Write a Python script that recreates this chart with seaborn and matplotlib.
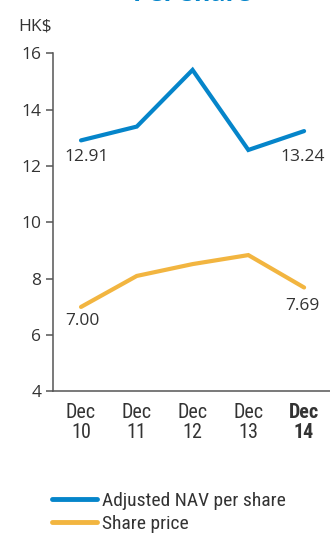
import matplotlib
matplotlib.use("Agg")
import matplotlib.pyplot as plt
import seaborn as sns
import pandas as pd
from matplotlib.lines import Line2D
from matplotlib import font_manager

# Chart data
periods = ["Dec\n10", "Dec\n11", "Dec\n12", "Dec\n13", "Dec\n14"]
nav_per_share = [12.91, 13.40, 15.41, 12.57, 13.24]
share_price = [7.00, 8.10, 8.52, 8.84, 7.69]
series_names = ["Adjusted NAV per share", "Share price"]
y_ticks = [4, 6, 8, 10, 12, 14, 16]

BLUE = "#0585CA"
ORANGE = "#F2B540"
TEXT = "#333333"
AXIS = "#555555"

sns.set_theme(style="white")
plt.rcParams["font.family"] = ["Open Sans", "DejaVu Sans"]

# Pick a narrow face for the category and legend text when one is installed
narrow = None
for f in font_manager.fontManager.ttflist:
    n = f.name
    if ("Narrow" in n or "Condensed" in n) and f.style == "normal":
        narrow = n
        if "Liberation" in n or "Roboto" in n:
            break
if narrow:
    narrow_family = [narrow, "DejaVu Sans"]
    cat_size, leg_size = 14.5, 14
else:
    narrow_family = ["DejaVu Sans"]
    cat_size, leg_size = 11.5, 11.5

df = pd.DataFrame({
    "idx": list(range(len(periods))) * 2,
    "value": nav_per_share + share_price,
    "series": [series_names[0]] * len(periods) + [series_names[1]] * len(periods),
})

fig = plt.figure(figsize=(3.30, 5.33), dpi=100)
ax = fig.add_axes([0.161, 0.2655, 0.845, 0.6345])

sns.lineplot(data=df, x="idx", y="value", hue="series",
             palette=[BLUE, ORANGE], linewidth=3.0, ax=ax,
             legend=False, solid_capstyle="round", solid_joinstyle="miter")

ax.set_xlim(-0.5, 4.5)
ax.set_ylim(4, 16)
ax.set_yticks(y_ticks)
ax.set_yticklabels([str(t) for t in y_ticks], fontsize=12.5, color=TEXT)
ax.set_xticks(range(len(periods)))
ax.set_xticklabels(periods, fontsize=cat_size, color=TEXT,
                   family=narrow_family, linespacing=1.1)
ax.get_xticklabels()[-1].set_fontweight("bold")
ax.tick_params(axis="y", left=True, length=5, width=1.1, color=AXIS, pad=3.5)
ax.tick_params(axis="x", bottom=False, length=0, pad=8)
ax.set_xlabel("")
ax.set_ylabel("")
for side in ["top", "right"]:
    ax.spines[side].set_visible(False)
for side in ["left", "bottom"]:
    ax.spines[side].set_color(AXIS)
    ax.spines[side].set_linewidth(1.1)

# Value labels at the first and last points
def label(i, v, dx, dy):
    ax.annotate(f"{v:.2f}", (i, v), xytext=(dx, dy),
                textcoords="offset points", ha="center", va="center",
                fontsize=12.5, color=TEXT)

label(0, nav_per_share[0], 4, -12)
label(4, nav_per_share[4], -1, -19)
label(0, share_price[0], 1, -10)
label(4, share_price[4], -1, -13)

# Unit label and title
fig.text(18 / 330, 1 - 27 / 533, "HK$", fontsize=12.5, color=TEXT,
         ha="left", va="center")
fig.text(192 / 330, 1 - 1 / 533, "Per share", fontsize=18, color=BLUE,
         fontweight="bold", ha="center", va="baseline")

handles = [Line2D([], [], color=BLUE, lw=3.5),
           Line2D([], [], color=ORANGE, lw=3.5)]
fig.legend(handles, series_names, loc="upper left",
           bbox_to_anchor=(0.135, 1 - 484 / 533), frameon=False,
           handlelength=2.3, handletextpad=0.25, labelspacing=0.25,
           borderaxespad=0,
           prop={"family": narrow_family, "size": leg_size},
           labelcolor=TEXT)

fig.savefig("out.png", dpi=100)
